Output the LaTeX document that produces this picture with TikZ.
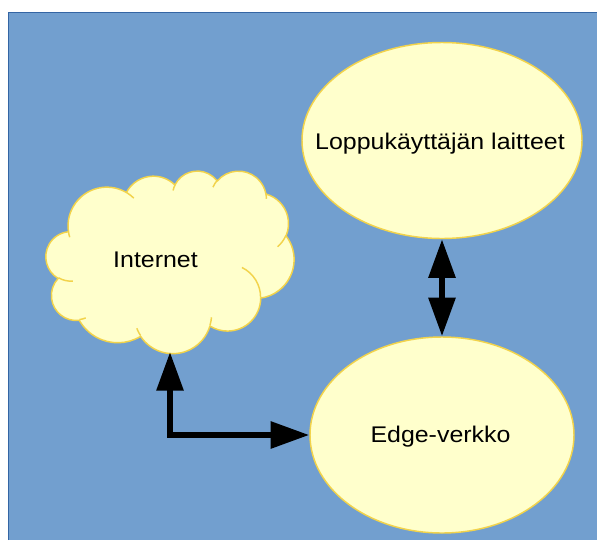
\documentclass[tikz,border=0pt]{standalone}
\usepackage{fontspec}
\setmainfont{Liberation Sans}
\newfontfamily\labelfont[FakeStretch=1.1]{Liberation Sans}
\usetikzlibrary{arrows.meta,shapes.geometric}

\definecolor{skyblue}{HTML}{729FCF}
\definecolor{frameblue}{HTML}{3465A4}
\definecolor{paleyellow}{HTML}{FFFFCC}
\definecolor{goldline}{HTML}{F2D34B}

% Elliptical arc given by visual start angle and sweep (DrawingML style),
% converted to TikZ's parametric angles.
\newcommand\ooarc[4]{%
  \pgfextra{%
    \pgfmathsetmacro\oaS{atan2((#1)*sin(#3),(#2)*cos(#3))}%
    \pgfmathsetmacro\oaE{atan2((#1)*sin((#3)+(#4)),(#2)*cos((#3)+(#4)))}%
    \pgfmathsetmacro\oaD{mod(\oaE-\oaS+720,360)}%
  }%
  arc[start angle=\oaS, delta angle=\oaD, x radius=#1, y radius=#2]}

\begin{document}
\begin{tikzpicture}[x=0.75pt, y=-0.75pt,
  bubble/.style={ellipse, draw=goldline, line width=1.1pt, fill=paleyellow, inner sep=0pt},
  caption/.style={font=\labelfont\fontsize{17}{20}\selectfont, text=black, anchor=base, inner sep=0pt},
  tipshape/.style={},
  link/.style={line width=4.5pt, draw=black,
    {Triangle[length=29pt,width=19.5pt]}-{Triangle[length=29pt,width=19.5pt]}},
  cloudline/.style={draw=goldline, line width=1.1pt, line join=round}]

  % page and blue panel
  \useasboundingbox (0,0) rectangle (597,540);
  \fill[white] (0,0) rectangle (597,540);
  \fill[skyblue] (8.5,12.5) rectangle (597,540);
  \draw[frameblue, line width=1.2pt] (8.5,540) -- (8.5,12.5) -- (597,12.5);

  % cloud outline (frame 0..432 in both directions)
  \begin{scope}[shift={(46,170.5)}, x=0.43056pt, y=-0.31684pt]
    \fill[paleyellow] (39.00,143.70)
      \ooarc{67.53}{91.90}{-190.4875}{123.7805}
      \ooarc{53.33}{72.67}{-144.1024}{89.9452}
      \ooarc{43.65}{59.45}{-145.8079}{99.7230}
      \ooarc{48.57}{65.95}{-130.9861}{117.2417}
      \ooarc{53.33}{72.73}{-78.7089}{109.0269}
      \ooarc{67.75}{92.20}{-46.2673}{130.2690}
      \ooarc{57.85}{78.67}{0.6250}{114.0333}
      \ooarc{67.52}{92.15}{22.4516}{115.1726}
      \ooarc{77.20}{105.43}{66.2426}{75.7110}
      \ooarc{43.60}{59.18}{-274.9421}{146.7356}
      \ooarc{43.45}{59.45}{-246.8285}{152.5189}
      -- cycle;
    \draw[cloudline] (39.00,143.70)
      \ooarc{67.53}{91.90}{-190.4875}{123.7805}
      \ooarc{53.33}{72.67}{-144.1024}{89.9452}
      \ooarc{43.65}{59.45}{-145.8079}{99.7230}
      \ooarc{48.57}{65.95}{-130.9861}{117.2417}
      \ooarc{53.33}{72.73}{-78.7089}{109.0269}
      \ooarc{67.75}{92.20}{-46.2673}{130.2690}
      \ooarc{57.85}{78.67}{0.6250}{114.0333}
      \ooarc{67.52}{92.15}{22.4516}{115.1726}
      \ooarc{77.20}{105.43}{66.2426}{75.7110}
      \ooarc{43.60}{59.18}{-274.9421}{146.7356}
      \ooarc{43.45}{59.45}{-246.8285}{152.5189}
      -- cycle;
    % inner puff lines
    \draw[cloudline]
      (46.93,261.77) \ooarc{43.45}{59.45}{86.7420}{26.4295}
      (69.28,348.99) \ooarc{43.60}{59.18}{73.6105}{11.4475}
      (164.78,390.90) \ooarc{67.52}{92.15}{137.6242}{14.0811}
      (288.27,347.51) \ooarc{67.52}{92.15}{6.4533}{15.9984}
      (341.29,229.54) \ooarc{57.85}{78.67}{-70.2924}{70.9174}
      (417.98,153.54) \ooarc{53.33}{72.73}{30.3180}{27.7515}
      (383.24,54.26) \ooarc{48.57}{65.95}{-13.7443}{14.8589}
      (290.78,39.52) \ooarc{48.57}{65.95}{-149.1815}{18.1954}
      (221.41,47.20) \ooarc{43.65}{59.45}{-163.4943}{17.6864}
      (140.00,51.92) \ooarc{67.53}{91.90}{-66.7070}{12.3194}
      (41.27,157.89) \ooarc{67.53}{91.90}{157.6544}{11.8582};
  \end{scope}

  % ellipses
  \node[bubble, minimum width=210pt, minimum height=147pt] (user) at (442,140.5) {};
  \node[bubble, minimum width=198pt, minimum height=147pt] (edge) at (442,435) {};

  % labels
  \node[caption] (userlbl) at (440,149) {Loppukäyttäjän laitteet};
  \node[caption] (edgelbl) at (440.5,442) {Edge-verkko};
  \node[caption] (inetlbl) at (155.5,267.6) {Internet};
  \coordinate (inetbot) at (170,352);

  % connectors
  \draw[link] (user) -- (edge);
  \draw[link] (inetbot) |- (edge);
\end{tikzpicture}
\end{document}
